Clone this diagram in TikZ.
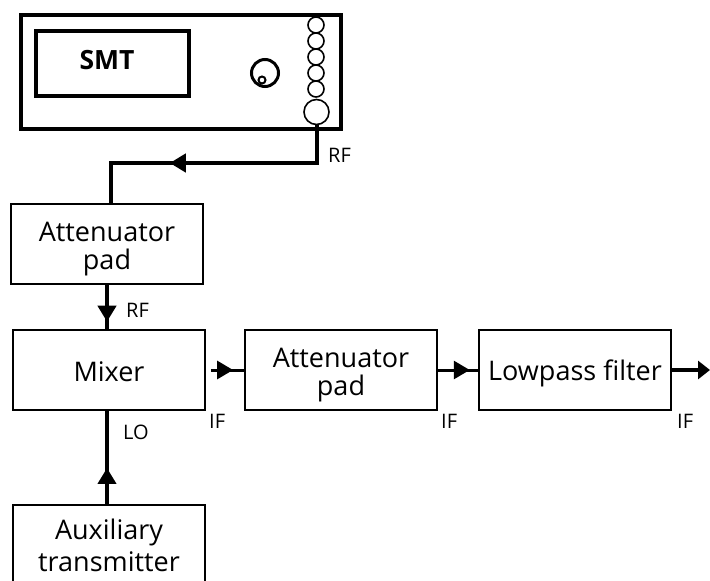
\documentclass[tikz,border=0pt]{standalone}
\usepackage{fontspec}
\setmainfont{Open Sans}
\usetikzlibrary{arrows.meta, positioning, calc, decorations.markings}

\begin{document}
\begin{tikzpicture}[
  x=1pt, y=-1pt,
  blockbox/.style={rectangle, draw, line width=1.2pt, outer sep=0pt, align=center,
    minimum width=192pt, minimum height=80pt, font=\fontsize{27}{28}\selectfont},
  dropped/.style={text height=#1},
  panel/.style={rectangle, draw, line width=4pt, outer sep=0pt, inner sep=0pt},
  socket/.style={circle, draw, line width=1.6pt, inner sep=0pt, outer sep=0pt, fill=white, minimum size=#1},
  tag/.style={font=\fontsize{20}{24}\selectfont, inner sep=0pt},
  signal/.style={line width=4pt},
  headat/.style={postaction={decorate}, decoration={markings,
    mark=at position #1 with {\arrow{Triangle[length=16pt, width=18pt]}}}}
]
\useasboundingbox (0,0) rectangle (710,581);

% generator
\node[panel, minimum width=320pt, minimum height=114pt] (smt) at (180.5,72) {};
\node[panel, minimum width=153pt, minimum height=65pt] (display) at (112.5,63.5) {};
\node[font=\fontsize{26.5}{28}\selectfont\bfseries, inner sep=0pt] (smtname) at (107,60) {SMT};
\foreach \n/\y in {1/25, 2/41, 3/57, 4/73, 5/89}
  \node[socket=16pt] (out\n) at (316,\y) {};
\node[socket=25pt] (port) at (316.5,112) {};
\node[socket=27pt, line width=3pt] (knob) at (265,73) {};
\node[socket=7pt, line width=2pt] (knobdot) at (262,80) {};

% chain
\node[blockbox, dropped=57pt] (attenA) at (107,244) {Attenuator\\pad};
\node[blockbox, dropped=24pt, below=46pt of attenA, xshift=2pt] (mixer) {Mixer};
\node[blockbox, dropped=57pt, right=40pt of mixer] (attenB) {Attenuator\\pad};
\node[blockbox, dropped=28pt, right=42pt of attenB] (filter) {Lowpass filter};
\node[blockbox, below=95pt of mixer] (aux) {Auxiliary\\[4pt]transmitter};

\coordinate (bend) at (111,163);
\coordinate (mixout) at ($(mixer.east)+(6,0)$);
\coordinate (ifout) at (710,370);

\draw[signal, headat=0.65] (port.south) |- (bend) -- (bend |- attenA.north);
\draw[signal, headat=0.82] (attenA.south) -- (attenA.south |- mixer.north);
\draw[signal, headat=0.39] (attenA.south |- aux.north) -- (attenA.south |- mixer.south);
\draw[line width=3pt, headat=0.65] (mixout) -- (attenB.west);
\draw[line width=3pt, headat=0.78] (attenB.east) -- (filter.west);
\draw[signal, -{Triangle[length=12pt, width=18pt]}] (filter.east) -- (ifout);

% labels
\node[tag, right] (rfa) at (328,155) {RF};
\node[tag, right] (rfb) at (126,310) {RF};
\node[tag, right] (lo) at (123,432) {LO};
\node[tag, right] (ifa) at (209,421) {IF};
\node[tag, right] (ifb) at (441,421) {IF};
\node[tag, right] (ifc) at (677,421) {IF};
\end{tikzpicture}
\end{document}
